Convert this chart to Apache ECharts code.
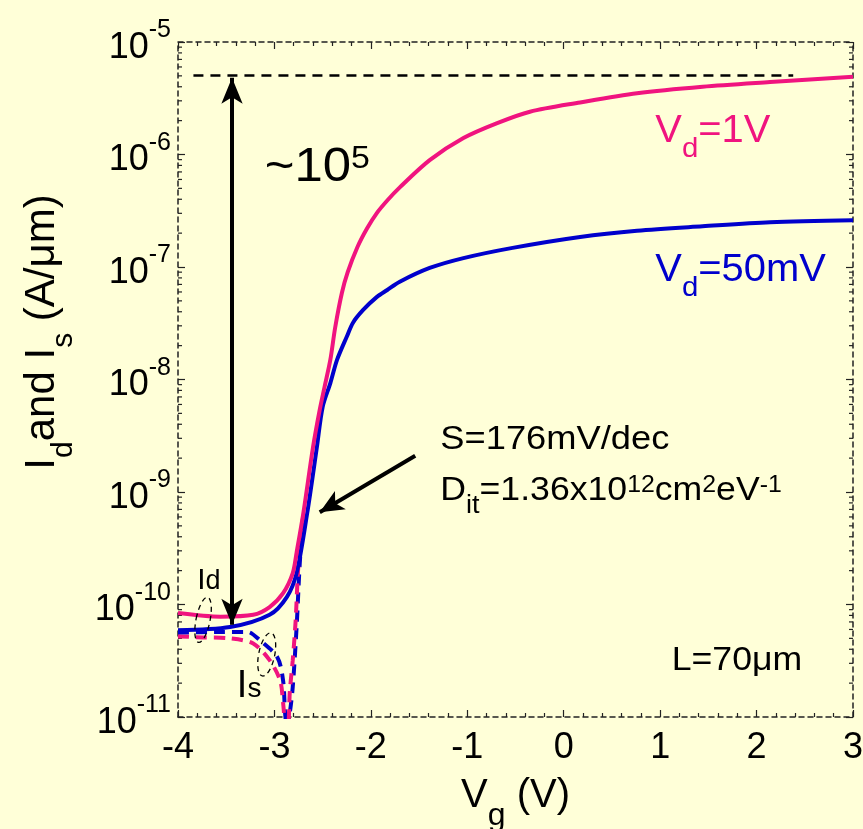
<!DOCTYPE html>
<html>
<head>
<meta charset="utf-8">
<script src="https://cdn.jsdelivr.net/npm/echarts@6/dist/echarts.min.js"></script>
<style>
  html, body { margin: 0; padding: 0; background: #FFFFD8; }
  #chart { width: 863px; height: 829px; }
</style>
</head>
<body>
<div id="chart"></div>
<script>
// Gate voltage (V) and current (A/um) for each measured curve
const vgId1V   = [-4.0, -3.56, -3.22, -3.05, -2.91, -2.81, -2.77, -2.70, -2.60, -2.53, -2.48, -2.42, -2.37, -2.30, -2.24, -2.14, -2.04, -1.94, -1.83, -1.70, -1.39, -1.04, -0.69, -0.35, 0.17, 0.76, 1.44, 2.14, 3.0];
const id1V     = [8.4e-11, 7.8e-11, 8.1e-11, 9.5e-11, 1.26e-10, 1.9e-10, 2.9e-10, 6.5e-10, 2.5e-9, 5.4e-9, 8.6e-9, 1.5e-8, 2.9e-8, 5.9e-8, 9.0e-8, 1.5e-7, 2.2e-7, 3.0e-7, 3.9e-7, 5.1e-7, 8.9e-7, 1.4e-6, 1.9e-6, 2.4e-6, 2.9e-6, 3.5e-6, 4.0e-6, 4.4e-6, 4.9e-6];

const vgId50mV = [-4.0, -3.46, -3.05, -2.87, -2.77, -2.66, -2.56, -2.50, -2.42, -2.35, -2.25, -2.185, -2.08, -1.94, -1.83, -1.70, -1.39, -1.04, -0.53, 0.17, 0.76, 1.44, 2.14, 3.0];
const id50mV   = [5.9e-11, 6.3e-11, 8.1e-11, 1.17e-10, 1.9e-10, 6.5e-10, 2.5e-9, 5.7e-9, 9.3e-9, 1.5e-8, 2.4e-8, 3.2e-8, 4.15e-8, 5.4e-8, 6.25e-8, 7.4e-8, 9.8e-8, 1.2e-7, 1.48e-7, 1.85e-7, 2.1e-7, 2.3e-7, 2.5e-7, 2.6e-7];

const vgIs1V   = [-4.0, -3.74, -3.46, -3.22, -3.05, -2.94, -2.91, -2.88, -2.86, -2.84, -2.81, -2.78, -2.76, -2.735, -2.70];
const is1V     = [5.2e-11, 5.1e-11, 5.0e-11, 4.5e-11, 3.2e-11, 2.1e-11, 1.33e-11, 8e-12, 8e-12, 1.7e-11, 3.2e-11, 7.2e-11, 1.66e-10, 3.7e-10, 6.2e-10];

const vgIs50mV = [-4.0, -3.56, -3.28, -3.15, -2.97, -2.91, -2.89, -2.87, -2.84, -2.81, -2.77, -2.735, -2.70];
const is50mV   = [5.6e-11, 5.7e-11, 5.7e-11, 4.8e-11, 3.4e-11, 2.1e-11, 1.1e-11, 8e-12, 1.1e-11, 1.85e-11, 6.3e-11, 2.5e-10, 5.6e-10];

// Axis ranges
const xMin = -4, xMax = 3;

// On/off ratio marker, reference level and slope pointer (data space)
const ratioArrow = { vg: -3.44, top: 4.8e-6, bottom: 6.6e-11 };
const onLevel    = { value: 5.1e-6, from: -3.84, to: 2.38 };
const slopeArrow = { from: [-1.54, 2.1e-9], to: [-2.53, 6.6e-10] };

const PINK = '#F0147F';
const BLUE = '#0000CC';
const FONT = '"Liberation Sans", Arial, sans-serif';
const NARROW = '"Liberation Sans Narrow", "Liberation Sans", Arial, sans-serif';

function pairs(xs, ys) { return xs.map((x, i) => [x, ys[i]]); }

// log-spaced minor tick values (2..9 within each decade)
const minorY = [];
for (let e = -11; e < -5; e++) for (let k = 2; k <= 9; k++) minorY.push(k * Math.pow(10, e));

const chart = echarts.init(document.getElementById('chart'));

const frameLine = { show: true, onZero: false, lineStyle: { color: '#222', width: 1.5, type: [5, 4] } };
const xBase = {
  type: 'value', min: xMin, max: xMax, interval: 1,
  axisLine: frameLine,
  axisTick: { show: true, inside: true, length: 7, lineStyle: { color: '#222', width: 1.2 } },
  minorTick: { show: true, splitNumber: 5, length: 4, lineStyle: { color: '#222', width: 1.2 } },
  splitLine: { show: false }
};
const yBase = {
  type: 'log', logBase: 10, min: 1e-11, max: 1e-5, interval: 1,
  axisLine: frameLine,
  axisTick: { show: true, inside: true, length: 7, lineStyle: { color: '#222', width: 1.2 } },
  splitLine: { show: false }
};

const curve = (name, xs, ys, color, dashed, z) => ({
  name: name, type: 'line', data: pairs(xs, ys), showSymbol: false,
  smooth: 0.3, z: z,
  lineStyle: dashed ? { color: color, width: 4, type: [11, 7] } : { color: color, width: 4 }
});

chart.setOption({
  backgroundColor: '#FFFFD8',
  animation: false,
  grid: { left: 178, right: 10, top: 42, bottom: 112, containLabel: false, outerBoundsMode: 'none' },
  xAxis: [
    Object.assign({}, xBase, {
      position: 'bottom',
      axisLabel: { fontSize: 36, color: '#000', fontFamily: FONT, margin: 13 },
      name: '{m|V}{sub|g}{m| (V)}',
      nameLocation: 'middle',
      nameGap: 59,
      nameTextStyle: {
        rich: {
          m: { fontSize: 40, fontFamily: NARROW, color: '#000', lineHeight: 40, verticalAlign: 'top' },
          sub: { fontSize: 32, fontFamily: NARROW, color: '#000', lineHeight: 32, padding: [24, 0, 0, 0], verticalAlign: 'top' }
        }
      }
    }),
    Object.assign({}, xBase, { position: 'top', axisLabel: { show: false } })
  ],
  yAxis: [
    Object.assign({}, yBase, {
      position: 'left',
      axisLabel: {
        margin: 7,
        formatter: v => '{b|10}{s|' + Math.round(Math.log10(v)) + '}',
        rich: {
          b: { fontSize: 36, fontFamily: FONT, color: '#000', lineHeight: 48, verticalAlign: 'bottom' },
          s: { fontSize: 25, fontFamily: FONT, color: '#000', lineHeight: 25, verticalAlign: 'top' }
        }
      }
    }),
    Object.assign({}, yBase, { position: 'right', axisLabel: { show: false } })
  ],
  series: [
    {
      // minor log ticks on left and right frame
      type: 'custom', xAxisIndex: 0, yAxisIndex: 0, silent: true, clip: false, z: 1,
      data: minorY.map(v => [xMin, v]),
      renderItem: function (params, api) {
        const l = api.coord([xMin, api.value(1)]);
        const r = api.coord([xMax, api.value(1)]);
        const st = { stroke: '#222', lineWidth: 1.2 };
        return { type: 'group', children: [
          { type: 'line', shape: { x1: l[0], y1: l[1], x2: l[0] + 4, y2: l[1] }, style: st },
          { type: 'line', shape: { x1: r[0], y1: r[1], x2: r[0] - 4, y2: r[1] }, style: st }
        ] };
      }
    },
    curve('Is 50mV', vgIs50mV, is50mV, BLUE, true, 2),
    curve('Is 1V', vgIs1V, is1V, PINK, true, 2),
    curve('Id 50mV', vgId50mV, id50mV, BLUE, false, 3),
    Object.assign(curve('Id 1V', vgId1V, id1V, PINK, false, 4), {
      markLine: {
        silent: true, animation: false, label: { show: false },
        data: [
          [ { coord: [ratioArrow.vg, ratioArrow.bottom], symbol: 'arrow', symbolSize: [16, 26] },
            { coord: [ratioArrow.vg, ratioArrow.top], symbol: 'arrow', symbolSize: [16, 26] } ],
          [ { coord: [onLevel.from, onLevel.value], symbol: 'none' },
            { coord: [onLevel.to, onLevel.value], symbol: 'none', lineStyle: { type: [10, 7], width: 2.5 } } ],
          [ { coord: slopeArrow.from, symbol: 'none' },
            { coord: slopeArrow.to, symbol: 'arrow', symbolSize: [16, 24] } ]
        ],
        lineStyle: { color: '#000', width: 4, type: 'solid' }
      }
    })
  ]
});

// Annotations anchored to data coordinates (top-left of each text block)
function px(v, i) { return chart.convertToPixel({ gridIndex: 0 }, [v, i]); }
function txt(pos, text, rich, sx) {
  return { type: 'text', x: pos[0], y: pos[1], z: 50, scaleX: sx || 1, originX: 0, originY: 0,
    style: { text: text, rich: rich, textVerticalAlign: 'top', textAlign: 'left' } };
}
const main = (fs, c) => ({ fontSize: fs, fontFamily: FONT, fill: c, lineHeight: fs, verticalAlign: 'top' });
const subS = (fs, c, drop) => ({ fontSize: fs, fontFamily: FONT, fill: c, lineHeight: fs, padding: [drop, 0, 0, 0], verticalAlign: 'top' });
const supS = (fs, c) => ({ fontSize: fs, fontFamily: FONT, fill: c, lineHeight: fs, verticalAlign: 'top' });

const pRatio = px(-3.10, 1.25e-6);
const pVd1  = px(0.95, 2.34e-6);
const pVd50 = px(0.95, 1.36e-7);
const pS    = px(-1.28, 4.07e-9);
const pD    = px(-1.28, 1.44e-9);
const pL    = px(1.12, 4.42e-11);
const pId   = px(-3.80, 2.2e-10);
const pIs   = px(-3.39, 2.77e-11);
const eId   = px(-3.74, 7.3e-11);
const eIs   = px(-3.08, 3.6e-11);

chart.setOption({ graphic: [
  txt(pRatio, '{m|~10}{p|5}', { m: main(48, '#000'), p: supS(32, '#000') }, 1.06),
  txt(pVd1, '{m|V}{s|d}{m|=1V}', { m: main(38, PINK), s: subS(28, PINK, 22) }, 1.05),
  txt(pVd50, '{m|V}{s|d}{m|=50mV}', { m: main(38, BLUE), s: subS(28, BLUE, 22) }, 1.05),
  txt(pS, '{m|S=176mV/dec}', { m: main(33, '#000') }, 1.1),
  txt(pD, '{m|D}{s|it}{m|=1.36x10}{p|12}{m|cm}{p|2}{m|eV}{p|-1}',
      { m: main(33, '#000'), s: subS(25, '#000', 19), p: supS(23, '#000') }, 1.08),
  txt(pL, '{m|L=70\u03BCm}', { m: main(33, '#000') }, 1.08),
  txt(pId, '{m|I}{s|d}', { m: main(30, '#000'), s: subS(27, '#000', 2) }),
  txt(pIs, '{m|I}{s|s}', { m: main(38, '#000'), s: subS(28, '#000', 8) }),
  {
    // y-axis title, read bottom to top
    type: 'text', x: 42, y: 332, rotation: Math.PI / 2, z: 50,
    style: {
      text: '{m|I}{sub|d}{m|and I}{sub|s}{m| (A/\u03BCm)}',
      textAlign: 'center', textVerticalAlign: 'middle',
      rich: {
        m: { fontSize: 42, fontFamily: NARROW, fill: '#000', lineHeight: 42, verticalAlign: 'top' },
        sub: { fontSize: 30, fontFamily: NARROW, fill: '#000', lineHeight: 30, padding: [28, 0, 0, 0], verticalAlign: 'top' }
      }
    }
  },
  { type: 'ellipse', z: 40, x: eId[0], y: eId[1], rotation: -0.2,
    shape: { cx: 0, cy: 0, rx: 7, ry: 23 },
    style: { fill: 'none', stroke: '#000', lineWidth: 1.3, lineDash: [5, 4] } },
  { type: 'ellipse', z: 40, x: eIs[0], y: eIs[1], rotation: -0.2,
    shape: { cx: 0, cy: 0, rx: 8, ry: 22 },
    style: { fill: 'none', stroke: '#000', lineWidth: 1.3, lineDash: [5, 4] } }
] });
</script>
</body>
</html>
